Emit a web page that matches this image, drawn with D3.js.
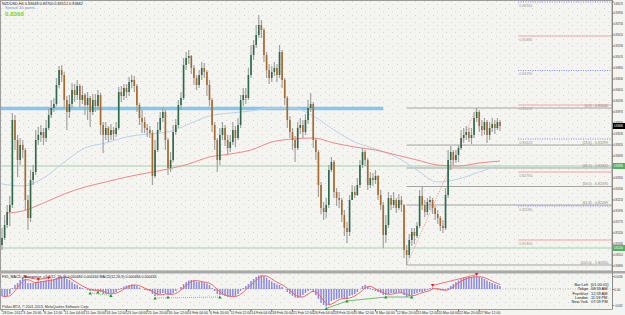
<!DOCTYPE html>
<html>
<head>
<meta charset="utf-8">
<script src="https://cdn.jsdelivr.net/npm/d3@7"></script>
<style>
body { margin: 0; background: #f4f4f0; }
svg { display: block; font-family: "Liberation Sans", Arial, sans-serif; }
</style>
</head>
<body>
<script>
// NZDUSD, prices in pips (x 0.0001), one candle = 8 hours
var firstOpen = 8130;
var closes = [
  8144,8170,8196,8210,8380,8340,8300,8330,8320,8220,
  8184,8260,8276,8340,8350,8356,8344,8364,8390,8404,
  8412,8450,8480,8470,8420,8396,8412,8440,8430,8448,
  8420,8430,8410,8424,8396,8420,8408,8430,8370,8350,
  8364,8350,8360,8352,8364,8436,8428,8444,8436,8456,
  8460,8448,8410,8384,8376,8364,8360,8354,8268,8320,
  8360,8384,8396,8340,8284,8300,8356,8370,8410,8424,
  8490,8504,8508,8484,8464,8450,8470,8484,8476,8450,
  8420,8370,8340,8300,8350,8364,8340,8324,8336,8360,
  8344,8370,8420,8430,8424,8470,8510,8530,8550,8570,
  8560,8510,8480,8464,8476,8484,8470,8516,8460,8424,
  8380,8356,8340,8324,8364,8370,8356,8380,8404,8412,
  8340,8316,8250,8204,8196,8210,8280,8296,8236,8224,
  8220,8190,8164,8156,8220,8236,8230,8250,8290,8316,
  8300,8250,8264,8260,8268,8230,8210,8150,8170,8224,
  8210,8220,8204,8220,8210,8120,8110,8140,8156,8148,
  8168,8228,8210,8196,8216,8220,8204,8192,8184,8168,
  8164,8230,8300,8316,8300,8310,8324,8344,8350,8356,
  8344,8350,8384,8396,8368,8360,8376,8350,8364,8372,
  8364,8376,8368];
var highs = [
  8164,8190,8210,8228,8394,8390,8350,8344,8340,8324,
  8230,8280,8290,8360,8366,8370,8364,8380,8404,8420,
  8424,8464,8488,8490,8476,8428,8430,8454,8452,8460,
  8452,8448,8434,8436,8428,8432,8432,8440,8434,8376,
  8376,8368,8372,8366,8376,8446,8448,8452,8452,8466,
  8470,8468,8452,8414,8400,8386,8372,8368,8360,8340,
  8376,8396,8404,8400,8344,8316,8370,8382,8420,8436,
  8504,8516,8520,8510,8490,8470,8480,8496,8494,8480,
  8460,8424,8376,8344,8364,8376,8370,8350,8350,8376,
  8368,8384,8430,8444,8444,8484,8530,8540,8570,8590,
  8580,8564,8516,8492,8488,8496,8492,8530,8520,8464,
  8428,8388,8364,8348,8376,8384,8380,8392,8420,8434,
  8416,8344,8320,8256,8216,8224,8290,8306,8300,8244,
  8236,8224,8200,8176,8230,8250,8248,8264,8300,8324,
  8320,8304,8276,8274,8280,8270,8240,8216,8190,8236,
  8230,8236,8224,8232,8228,8212,8130,8152,8164,8164,
  8176,8240,8246,8220,8224,8228,8224,8208,8200,8188,
  8180,8244,8320,8328,8320,8320,8330,8360,8364,8368,
  8364,8364,8396,8404,8400,8380,8384,8380,8376,8384,
  8380,8384,8380];
var lows = [
  8120,8140,8164,8168,8204,8320,8266,8290,8304,8200,
  8160,8176,8250,8270,8330,8336,8330,8336,8360,8384,
  8396,8408,8444,8456,8404,8360,8384,8404,8416,8420,
  8406,8412,8390,8380,8366,8390,8396,8400,8350,8314,
  8340,8336,8340,8340,8346,8360,8416,8420,8424,8428,
  8444,8436,8396,8370,8354,8354,8346,8344,8250,8264,
  8316,8356,8376,8320,8270,8276,8296,8350,8364,8400,
  8420,8480,8492,8472,8450,8440,8444,8460,8464,8428,
  8408,8356,8320,8276,8290,8340,8328,8310,8316,8330,
  8326,8340,8364,8408,8412,8420,8464,8500,8524,8544,
  8544,8496,8464,8452,8456,8468,8456,8464,8444,8410,
  8364,8344,8320,8296,8320,8352,8344,8350,8372,8396,
  8324,8300,8226,8192,8180,8184,8204,8276,8224,8208,
  8204,8176,8148,8134,8148,8220,8224,8228,8244,8284,
  8288,8240,8244,8248,8252,8220,8200,8124,8134,8164,
  8200,8204,8194,8200,8196,8104,8090,8104,8128,8132,
  8144,8164,8200,8186,8190,8200,8192,8180,8172,8158,
  8154,8160,8224,8280,8290,8294,8296,8320,8334,8340,
  8336,8332,8344,8376,8356,8348,8350,8334,8340,8356,
  8352,8360,8358];
// MACD main, x 0.0001
var macd = [
  -14,-16,-14,-10,2,8,12,18,24,20,
  12,12,12,14,15,16,16,17,18,19,
  20,22,24,25,24,20,18,14,10,8,
  4,2,0,-2,-4,-3,-2,-2,-6,-10,
  -10,-10,-9,-8,-6,-2,2,5,7,8,
  9,8,6,3,0,-2,-3,-4,-10,-14,
  -13,-10,-8,-9,-12,-12,-8,-4,0,4,
  10,14,17,18,17,15,14,14,13,11,
  8,2,-4,-10,-12,-12,-14,-16,-16,-14,
  -14,-10,-4,2,6,10,16,20,24,27,
  28,26,22,18,15,12,9,8,4,0,
  -6,-10,-14,-17,-18,-16,-12,-8,-4,-2,
  -6,-12,-20,-28,-32,-35,-30,-24,-22,-20,
  -18,-18,-20,-20,-14,-12,-10,-6,0,6,
  8,5,2,-2,-4,-6,-8,-12,-12,-10,
  -8,-8,-8,-7,-8,-12,-16,-14,-12,-10,
  -8,-6,-6,-4,-2,2,3,0,-2,-3,
  -3,-2,2,6,10,14,17,20,22,23,
  24,24,25,25,24,22,20,17,14,12,
  10,8,6];

var dateLabels = ["28 Dec 2012","3 Jan 20:00","8 Jan 12:00","11 Jan 04:00","15 Jan 20:00",
  "18 Jan 12:00","23 Jan 04:00","25 Jan 20:00","30 Jan 12:00","4 Feb 04:00","6 Feb 20:00",
  "11 Feb 12:00","14 Feb 04:00","18 Feb 20:00","21 Feb 12:00","26 Feb 04:00","28 Feb 20:00",
  "5 Mar 12:00","8 Mar 04:00","12 Mar 20:00","15 Mar 12:00","20 Mar 04:00","22 Mar 20:00",
  "27 Mar 12:00"];
var priceTicks = [0.8617,0.8595,0.8573,0.8551,0.8529,0.8507,0.8485,0.8463,0.8441,0.8419,
  0.8397,0.8375,0.8353,0.8331,0.8309,0.8287,0.8265,0.8243,0.8221,0.8199,0.8177,0.8155,
  0.8133,0.8111,0.8089];
var macdTicks = [0.0026, 0, -0.0032];

var blueIdx = [0,8,16,24,32,40,48,56,64,72,80,88,96,104,112,120,128,136,144,152,160,168,176,184,192];
var maBlue = [8252,8248,8264,8296,8324,8334,8346,8352,8356,8372,8388,8394,8398,8404,8404,
  8388,8360,8336,8322,8306,8280,8256,8262,8276,8290];
var redIdx = [2,8,16,24,32,40,48,56,64,72,80,88,96,104,112,120,128,136,144,152,160,168,176,184,192];
var maRed = [8194,8198,8214,8232,8246,8256,8266,8274,8282,8292,8306,8312,8320,8336,8342,
  8344,8334,8326,8320,8310,8300,8290,8288,8294,8298];

var pivotLevels = [0.8616,0.8548,0.8479,0.8410,0.8342,0.8276,0.8208,0.8140];
var fibRatios = [0, 23.6, 38.2, 50, 61.8, 100];
var fibLowIdx = 156, fibHighIdx = 183;
var bandLevel = 0.8403, bandEndIdx = 147;
var greenLevels = [0.8288, 0.8124];
var pivotStartIdx = 199;

var greenMarks = [34, 37, 42, 59, 64, 84, 125, 133, 148, 158];
var redMarks = [9, 14, 18, 166, 183];
var greenDiv = [[34, 42], [59, 84], [125, 133, 148, 158]];
var redDiv = [[9, 14, 18], [166, 183]];

var clockNames = ["Bar Left", "Tokyo", "Frankfurt", "London", "New York"];
var clockValues = ["[01:00:01]", "08:59 AM", "12:59 AM", "11:59 PM", "07:59 PM"];

var W = 625, H = 315, axisX = 612;
var mainBottom = 271, subTop = 273.5, subBottom = 309;
var labelW = 9;

var svg = d3.select("body").append("svg")
    .attr("width", W)
    .attr("height", H);

var defs = svg.append("defs");
var pat = defs.append("pattern")
    .attr("id", "dots")
    .attr("patternUnits", "userSpaceOnUse")
    .attr("width", 9)
    .attr("height", 7);
pat.append("rect").attr("x", 1).attr("y", 1).attr("width", 1).attr("height", 1).attr("fill", "#ddcfcf");
pat.append("rect").attr("x", 5).attr("y", 4).attr("width", 1).attr("height", 1).attr("fill", "#d8d8d4");
defs.append("clipPath").attr("id", "clipMain")
    .append("rect").attr("x", 0).attr("y", 0).attr("width", axisX).attr("height", mainBottom);

svg.append("rect").attr("width", W).attr("height", H).attr("fill", "#f4f4f0");
svg.append("rect").attr("width", axisX).attr("height", mainBottom).attr("fill", "url(#dots)");
svg.append("rect").attr("y", subTop).attr("width", axisX).attr("height", subBottom - subTop).attr("fill", "url(#dots)");

var bars = closes.map(function (c, i) {
    return { i: i, o: (i ? closes[i - 1] : firstOpen) / 1e4, h: highs[i] / 1e4, l: lows[i] / 1e4, c: c / 1e4 };
});

var x = d3.scaleLinear().domain([0, bars.length - 1]).range([2, 500]);
var y = d3.scaleLinear().domain([0.8084, 0.8620]).range([268, 0]);
var ym = d3.scaleLinear().domain([-0.0037, 0.0031]).range([307.5, 273.5]);

var main = svg.append("g").attr("clip-path", "url(#clipMain)");

// resistance band
main.append("line")
    .attr("x1", 0).attr("x2", x(bandEndIdx))
    .attr("y1", y(bandLevel)).attr("y2", y(bandLevel))
    .attr("stroke", "#86c8ea").attr("stroke-width", 3.5);

main.selectAll("line.green").data(greenLevels).enter().append("line")
    .attr("x1", 0).attr("x2", axisX)
    .attr("y1", d => y(d)).attr("y2", d => y(d))
    .attr("stroke", "#9fd3b0").attr("stroke-width", 1);

// pivots
main.selectAll("line.pivot").data(pivotLevels).enter().append("line")
    .attr("x1", x(pivotStartIdx)).attr("x2", axisX)
    .attr("y1", d => y(d)).attr("y2", d => y(d))
    .attr("stroke", (d, i) => i % 2 ? "#f2a3a3" : "#8585ee")
    .attr("stroke-dasharray", (d, i) => i % 2 ? null : "1,1.4")
    .attr("stroke-width", 1);
main.selectAll("text.pivot").data(pivotLevels).enter().append("text")
    .attr("x", x(pivotStartIdx) + 1).attr("y", d => y(d) + 4.5)
    .attr("font-size", 3.6).attr("fill", "#9a9a9a")
    .text(d => d3.format(".5f")(d));

// fibonacci
var fibHigh = highs[fibHighIdx] / 1e4, fibLow = lows[fibLowIdx] / 1e4;
var fibs = fibRatios.map(r => ({ r: r, p: fibHigh - (fibHigh - fibLow) * r / 100 }));
main.selectAll("line.fib").data(fibs).enter().append("line")
    .attr("x1", x(fibLowIdx)).attr("x2", axisX)
    .attr("y1", d => y(d.p)).attr("y2", d => y(d.p))
    .attr("stroke", "#a4a4a4").attr("stroke-width", 1);
main.selectAll("text.fib").data(fibs).enter().append("text")
    .attr("x", axisX - 4).attr("y", d => y(d.p) - 1.2)
    .attr("text-anchor", "end")
    .attr("font-size", 3.6).attr("fill", "#8a8a8a")
    .text(d => "(" + d3.format(".1f")(d.r) + ") - " + d3.format(".5f")(d.p));
main.append("line")
    .attr("x1", x(fibLowIdx)).attr("y1", y(fibLow))
    .attr("x2", x(fibHighIdx)).attr("y2", y(fibHigh))
    .attr("stroke", "#ee8c8c").attr("stroke-dasharray", "1,1").attr("stroke-width", 0.8);

// moving averages
var maLine = d3.line().x(d => x(d[0])).y(d => y(d[1] / 1e4)).curve(d3.curveMonotoneX);
main.append("path")
    .attr("d", maLine(blueIdx.map((k, i) => [k, maBlue[i]])))
    .attr("fill", "none").attr("stroke", "#bcd3ea").attr("stroke-width", 1);
main.append("path")
    .attr("d", maLine(redIdx.map((k, i) => [k, maRed[i]])))
    .attr("fill", "none").attr("stroke", "#f08888").attr("stroke-width", 1);

// candles
main.selectAll("line.wick").data(bars).enter().append("line")
    .attr("x1", d => x(d.i)).attr("x2", d => x(d.i))
    .attr("y1", d => y(d.h)).attr("y2", d => y(d.l))
    .attr("stroke", "#a2a2a2").attr("stroke-width", 1.2);
main.selectAll("rect.body").data(bars).enter().append("rect")
    .attr("x", d => x(d.i) - 0.8)
    .attr("width", 1.6)
    .attr("y", d => y(Math.max(d.o, d.c)))
    .attr("height", d => Math.max(0.7, Math.abs(y(d.o) - y(d.c))))
    .attr("fill", d => d.c >= d.o ? "#2b6a4c" : "#a8692b");

// frame
svg.append("rect").attr("x", 0.5).attr("y", 0.5).attr("width", axisX - 0.5).attr("height", mainBottom - 0.5)
    .attr("fill", "none").attr("stroke", "#9c9c9c").attr("stroke-width", 1);
svg.append("rect").attr("x", 0).attr("y", mainBottom).attr("width", W).attr("height", 2.5).attr("fill", "#a8a8a8");
svg.append("line").attr("x1", 0.5).attr("x2", 0.5).attr("y1", subTop).attr("y2", subBottom).attr("stroke", "#9c9c9c");
svg.append("line").attr("x1", 0).attr("x2", axisX).attr("y1", subBottom + 0.5).attr("y2", subBottom + 0.5).attr("stroke", "#9c9c9c");
svg.append("line").attr("x1", axisX + 0.5).attr("x2", axisX + 0.5).attr("y1", 0).attr("y2", subBottom + 0.5).attr("stroke", "#8c8c8c");

// price axis
var yAxis = d3.axisRight(y).tickValues(priceTicks).tickSize(1.2).tickPadding(0.3).tickFormat(d3.format(".5f"));
var gy = svg.append("g").attr("transform", "translate(" + (axisX + 0.5) + ",0)").call(yAxis);
gy.select(".domain").remove();
gy.selectAll("line").attr("stroke", "#666");
gy.selectAll("text").attr("font-size", 3.4).attr("fill", "#333").attr("font-family", "Liberation Sans, Arial")
    .attr("textLength", labelW).attr("lengthAdjust", "spacingAndGlyphs")
    .attr("dy", d => y(d) < 3 ? "0.95em" : "0.32em");

function axisBox(price, fill, color) {
    svg.append("rect").attr("x", axisX + 1).attr("y", y(price) - 3).attr("width", W - axisX).attr("height", 6).attr("fill", fill);
    svg.append("text").attr("x", axisX + 2).attr("y", y(price) + 1.2)
        .attr("font-size", 3.4).attr("fill", color)
        .attr("textLength", labelW).attr("lengthAdjust", "spacingAndGlyphs")
        .text(d3.format(".5f")(price));
}
axisBox(closes[closes.length - 1] / 1e4, "#000", "#fff");
greenLevels.forEach(p => axisBox(p, "#52b060", "#fff"));

// MACD panel
var sub = svg.append("g");
sub.append("line").attr("x1", 0).attr("x2", axisX).attr("y1", ym(0)).attr("y2", ym(0))
    .attr("stroke", "#b8b8b8").attr("stroke-dasharray", "1,1.5");
sub.selectAll("rect.hist").data(macd).enter().append("rect")
    .attr("x", (d, i) => x(i) - 0.75)
    .attr("width", 1.5)
    .attr("y", d => ym(Math.max(0, d / 1e4)))
    .attr("height", d => Math.abs(ym(d / 1e4) - ym(0)))
    .attr("fill", "#8a8ae0");
var signal = macd.map((d, i) => d3.mean(macd.slice(Math.max(0, i - 3), i + 1)));
sub.append("path")
    .attr("d", d3.line().x((d, i) => x(i)).y(d => ym(d / 1e4)).curve(d3.curveMonotoneX)(signal))
    .attr("fill", "none").attr("stroke", "#f06464").attr("stroke-width", 1);

greenDiv.forEach(function (seg, j) {
    sub.append("path").attr("d", d3.line().x(k => x(k)).y(k => ym(macd[k] / 1e4) + 2)(seg))
        .attr("fill", "none").attr("stroke", "#4caf50").attr("stroke-width", j == 2 ? 0.8 : 0.7)
        .attr("stroke-dasharray", j == 2 ? null : "1,1");
});
redDiv.forEach(function (seg) {
    sub.append("path").attr("d", d3.line().x(k => x(k)).y(k => ym(macd[k] / 1e4) - 2)(seg))
        .attr("fill", "none").attr("stroke", "#e84040").attr("stroke-width", 0.7);
});
var tri = d3.symbol().type(d3.symbolTriangle).size(5);
sub.selectAll("path.gm").data(greenMarks).enter().append("path")
    .attr("d", tri)
    .attr("transform", k => "translate(" + x(k) + "," + (ym(macd[k] / 1e4) + 2.5) + ")")
    .attr("fill", "#1c9a2c");
sub.selectAll("path.rm").data(redMarks).enter().append("path")
    .attr("d", tri)
    .attr("transform", k => "translate(" + x(k) + "," + (ym(macd[k] / 1e4) - 2.5) + ") rotate(180)")
    .attr("fill", "#e02020");

var yAxisM = d3.axisRight(ym).tickValues(macdTicks).tickSize(1.2).tickPadding(0.3)
    .tickFormat(d => d === 0 ? "0.00" : d3.format(".4f")(d));
var gm = svg.append("g").attr("transform", "translate(" + (axisX + 0.5) + ",0)").call(yAxisM);
gm.select(".domain").remove();
gm.selectAll("line").attr("stroke", "#666");
gm.selectAll("text").attr("font-size", 3.2).attr("fill", "#333").attr("font-family", "Liberation Sans, Arial");
gm.selectAll("text").filter(d => d !== 0)
    .attr("textLength", 8.6).attr("lengthAdjust", "spacingAndGlyphs");

// dates
var gx = svg.append("g");
gx.selectAll("line").data(dateLabels).enter().append("line")
    .attr("x1", (d, k) => x(k * 8)).attr("x2", (d, k) => x(k * 8))
    .attr("y1", subBottom + 0.5).attr("y2", subBottom + 2.5)
    .attr("stroke", "#666");
gx.selectAll("text").data(dateLabels).enter().append("text")
    .attr("x", (d, k) => x(k * 8) + 0.5).attr("y", 313.6)
    .attr("font-size", 3.5).attr("fill", "#333")
    .text(d => d);

// texts
svg.append("text").attr("x", 2).attr("y", 4.6).attr("font-size", 3.8).attr("fill", "#222")
    .text("NZDUSD,H4  0.83648 0.83700 0.83512 0.83682");
svg.append("text").attr("x", 5).attr("y", 9).attr("font-size", 3.8).attr("fill", "#6f8fd8")
    .text("Spread: 30 points.");
svg.append("text").attr("x", 5).attr("y", 15.5).attr("font-size", 6.2).attr("font-weight", "bold").attr("fill", "#7ed321")
    .text(d3.format(".4f")(closes[closes.length - 1] / 1e4));
svg.append("text").attr("x", 2).attr("y", 278).attr("font-size", 3.6).attr("fill", "#222")
    .text("FX5_MACD_Divergence_v1.1(12, 26, 9) 0.000484 0.000434 MACD(12,26,9) 0.000484 0.000434");
svg.append("text").attr("x", 2).attr("y", 307.5).attr("font-size", 3.6).attr("fill", "#333")
    .text("Pallas MT4, \u00a9 2001-2013, MetaQuotes Software Corp.");

var clock = svg.append("g");
clock.selectAll("text.n").data(clockNames).enter().append("text")
    .attr("x", 588).attr("y", (d, i) => 286 + i * 4.3)
    .attr("text-anchor", "end").attr("font-size", 3.9).attr("fill", "#222")
    .text(d => d);
clock.selectAll("text.v").data(clockValues).enter().append("text")
    .attr("x", 591).attr("y", (d, i) => 286 + i * 4.3)
    .attr("font-size", 3.9).attr("fill", "#222")
    .text(d => d);
</script>
</body>
</html>
